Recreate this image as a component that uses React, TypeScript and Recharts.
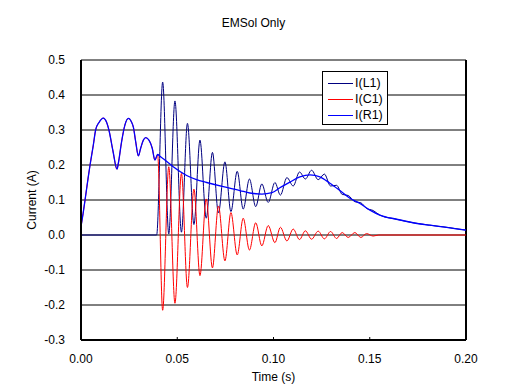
import { LineChart, Line, XAxis, YAxis, CartesianGrid, Legend, ReferenceLine } from 'recharts';

// startup transient, shared by I(R1) and I(C1) before the inductor branch kicks in
const startup: [number, number][] = [
  [0, 0.024], [0.0011, 0.062], [0.0021, 0.1], [0.0038, 0.167], [0.0047, 0.2],
  [0.0064, 0.257], [0.0076, 0.3], [0.0094, 0.322], [0.0116, 0.334], [0.0133, 0.322],
  [0.0145, 0.3], [0.0166, 0.24], [0.0187, 0.188], [0.0194, 0.205], [0.0211, 0.267],
  [0.0228, 0.314], [0.0246, 0.333], [0.0263, 0.322], [0.0272, 0.308], [0.0284, 0.267],
  [0.0298, 0.226], [0.031, 0.248], [0.0324, 0.271], [0.0336, 0.278], [0.0353, 0.271],
  [0.037, 0.248], [0.0384, 0.214], [0.0398, 0.23],
];

const r1Tail: [number, number][] = [
  [0.0412, 0.224], [0.0436, 0.214], [0.0479, 0.195], [0.0549, 0.17], [0.06, 0.158],
  [0.0653, 0.15], [0.0739, 0.138], [0.0826, 0.127], [0.0877, 0.12], [0.094, 0.117],
  [0.0992, 0.121], [0.1033, 0.135], [0.1085, 0.151], [0.1137, 0.166], [0.1189, 0.172],
  [0.1241, 0.166], [0.1293, 0.148], [0.1345, 0.127], [0.1397, 0.105], [0.1449, 0.09],
  [0.1501, 0.071], [0.1552, 0.057], [0.1639, 0.045], [0.1725, 0.035], [0.1812, 0.028],
  [0.1899, 0.022], [0.2, 0.014],
];

const c1Ring: [number, number][] = [
  [0.04242, -0.215], [0.04559, 0.195], [0.0488, -0.195], [0.05218, 0.176], [0.0553, -0.15],
  [0.05867, 0.131], [0.06179, -0.116], [0.06506, 0.103], [0.06828, -0.094], [0.07139, 0.083],
  [0.07477, -0.074], [0.07788, 0.064], [0.08115, -0.057], [0.08427, 0.048], [0.08749, -0.043],
  [0.09076, 0.035], [0.09393, -0.031], [0.09725, 0.027], [0.10073, -0.022], [0.10358, 0.022],
  [0.10696, -0.017], [0.11023, 0.017], [0.1135, -0.013], [0.11656, 0.012], [0.11978, -0.012],
  [0.12321, 0.011], [0.12643, -0.011], [0.12965, 0.01], [0.13276, -0.01], [0.13567, 0.007],
  [0.13879, -0.007], [0.14226, 0.007], [0.14538, -0.007], [0.14834, 0.004], [0.15177, -0.003],
  [0.1547, 0], [0.2, 0],
];

const l1Points: [number, number][] = [
  [0, 0], [0.0393, 0], [0.04242, 0.437], [0.04559, 0.003], [0.0488, 0.383], [0.05218, 0.008],
  [0.0553, 0.319], [0.05867, 0.03], [0.06179, 0.271], [0.06506, 0.048], [0.06828, 0.236],
  [0.07139, 0.063], [0.07477, 0.209], [0.07788, 0.067], [0.08115, 0.182], [0.08427, 0.074],
  [0.08749, 0.16], [0.09076, 0.081], [0.09393, 0.146], [0.09725, 0.093], [0.10073, 0.15],
  [0.10358, 0.114], [0.10696, 0.164], [0.11023, 0.14], [0.1135, 0.18], [0.11656, 0.16],
  [0.11978, 0.185], [0.12321, 0.158], [0.12643, 0.174], [0.12965, 0.14], [0.13276, 0.142],
  [0.13567, 0.116], [0.13879, 0.113], [0.14226, 0.095], [0.14538, 0.092], [0.14834, 0.076],
  [0.15177, 0.07], [0.1552, 0.057], [0.1639, 0.045], [0.1725, 0.035], [0.1812, 0.028],
  [0.1899, 0.022], [0.2, 0.014],
];

const xTicks = [0, 0.05, 0.1, 0.15, 0.2];
const yTicks = [-0.3, -0.2, -0.1, 0, 0.1, 0.2, 0.3, 0.4, 0.5];

const legendItems = [
  { name: 'I(L1)', color: '#000080' },
  { name: 'I(C1)', color: '#FF0000' },
  { name: 'I(R1)', color: '#0000FF' },
];

const toRows = (pts: [number, number][]) => pts.map(([t, v]) => ({ t, v }));

const l1Data = toRows(l1Points);
const c1Data = toRows([...startup, ...c1Ring]);
const r1Data = toRows([...startup, ...r1Tail]);

const FONT = '"Liberation Sans", Arial, sans-serif';

const LegendBox = () => (
  <div
    style={{
      boxSizing: 'border-box',
      width: 66,
      height: 54,
      border: '1px solid #000',
      background: '#fff',
      padding: '3px 0',
      fontFamily: FONT,
    }}
  >
    {legendItems.map((item) => (
      <div key={item.name} style={{ display: 'flex', alignItems: 'center', height: 16 }}>
        <svg width={30} height={16} style={{ display: 'block' }}>
          <line x1={5} x2={30} y1={8.5} y2={8.5} stroke={item.color} strokeWidth={1} />
        </svg>
        <span style={{ marginLeft: 2, fontSize: 12.5, color: '#000', lineHeight: '16px' }}>{item.name}</span>
      </div>
    ))}
  </div>
);

const YLabel = (props: any) => {
  const vb = props.viewBox || { x: 31, y: 60, width: 50, height: 280 };
  const cx = vb.x + 1;
  const cy = vb.y + vb.height / 2;
  return (
    <text
      x={cx}
      y={cy}
      transform={`rotate(-90, ${cx}, ${cy})`}
      textAnchor="middle"
      dominantBaseline="central"
      fontSize={12}
      fill="#000"
    >
      Current (A)
    </text>
  );
};

export default function App() {
  return (
    <div style={{ position: 'relative', width: 507, height: 392, background: '#fff', fontFamily: FONT }}>
      <style>{'body{margin:0}'}</style>
      <div
        style={{
          position: 'absolute',
          top: 16,
          left: 0,
          width: 507,
          textAlign: 'center',
          fontSize: 12,
          color: '#000',
        }}
      >
        EMSol Only
      </div>
      <LineChart width={507} height={392} margin={{ top: 60, right: 41, left: 31, bottom: 10 }}>
        <CartesianGrid vertical={false} stroke="#000" strokeWidth={1} />
        <XAxis
          type="number"
          dataKey="t"
          domain={[0, 0.2]}
          ticks={xTicks}
          tickFormatter={(v: number) => v.toFixed(2)}
          axisLine={{ stroke: '#000', strokeWidth: 2 }}
          tickLine={{ stroke: '#000' }}
          tickSize={-3}
          tickMargin={17}
          height={42}
          tick={{ fontSize: 12, fill: '#000' }}
          label={{ value: 'Time (s)', position: 'insideBottom', offset: 1, fontSize: 12, fill: '#000' }}
        />
        <YAxis
          type="number"
          domain={[-0.3, 0.5]}
          ticks={yTicks}
          tickFormatter={(v: number) => v.toFixed(1)}
          axisLine={{ stroke: '#000', strokeWidth: 2 }}
          tickLine={false}
          tickSize={0}
          tickMargin={16}
          width={50}
          tick={{ fontSize: 12, fill: '#000' }}
          label={<YLabel />}
        />
        <ReferenceLine x={0.2} stroke="#000" strokeWidth={2} />
        <Legend
          layout="vertical"
          align="center"
          verticalAlign="middle"
          wrapperStyle={{ left: 322, top: 71, width: 66 }}
          content={<LegendBox />}
        />
        <Line
          data={l1Data}
          dataKey="v"
          type="monotone"
          stroke="#000080"
          strokeWidth={1}
          dot={false}
          isAnimationActive={false}
        />
        <Line
          data={c1Data}
          dataKey="v"
          type="monotone"
          stroke="#FF0000"
          strokeWidth={1}
          dot={false}
          isAnimationActive={false}
        />
        <Line
          data={r1Data}
          dataKey="v"
          type="monotone"
          stroke="#0000FF"
          strokeWidth={1.3}
          dot={false}
          isAnimationActive={false}
        />
      </LineChart>
    </div>
  );
}
